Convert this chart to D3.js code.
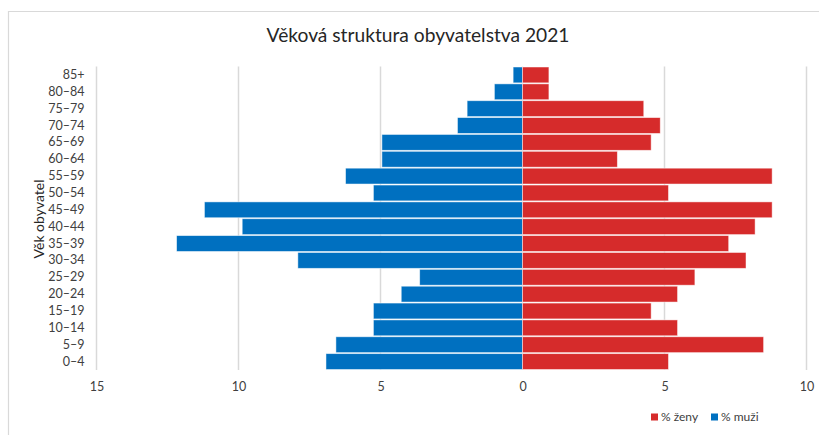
<!DOCTYPE html>
<html>
<head>
<meta charset="utf-8">
<script src="https://cdn.jsdelivr.net/npm/d3@7"></script>
<style>
    body { margin: 0; background: #fff; }
    text { font-family: Lato, "Open Sans", sans-serif; fill: #404040; }
</style>
</head>
<body>
<div id="canvas"></div>
<script>
// DATA
const ageGroups = ["0–4", "5–9", "10–14", "15–19", "20–24", "25–29", "30–34", "35–39", "40–44",
    "45–49", "50–54", "55–59", "60–64", "65–69", "70–74", "75–79", "80–84", "85+"];
const men = [6.92, 6.57, 5.25, 5.25, 4.27, 3.62, 7.91, 12.18, 9.87,
    11.2, 5.25, 6.23, 4.95, 4.95, 2.29, 1.95, 0.99, 0.33];
const women = [5.14, 8.49, 5.46, 4.53, 5.46, 6.07, 7.87, 7.26, 8.19,
    8.79, 5.14, 8.79, 3.34, 4.53, 4.85, 4.27, 0.93, 0.93];
const xTicks = [-15, -10, -5, 0, 5, 10];
const seriesNames = ["% ženy", "% muži"];

// DIMENSIONS
const width = 819;
const height = 435;
const plot = { left: 96.5, right: 806.5, top: 66.5, bottom: 370 };

const blue = "#0070c0";
const red = "#d62b2b";

// CANVAS
const svg = d3.select("#canvas")
    .append("svg")
    .attr("width", width)
    .attr("height", height);

// FRAME
svg.append("path")
    .attr("d", `M8.5,${height} V11.5 H${width}`)
    .attr("fill", "none")
    .attr("stroke", "#d9d9d9")
    .attr("stroke-width", 1.2);

// TITLE
svg.append("text")
    .attr("x", 418)
    .attr("y", 42)
    .attr("text-anchor", "middle")
    .style("font-size", "19.2px")
    .style("fill", "#262626")
    .text("Věková struktura obyvatelstva 2021");

// SCALES
const xScale = d3.scaleLinear()
    .domain([-15, 10])
    .range([plot.left, plot.right]);

const yScale = d3.scaleBand()
    .domain(ageGroups.slice().reverse())
    .range([plot.top, plot.bottom])
    .paddingInner(0.06)
    .paddingOuter(0.03);

// GRID
svg.append("g")
    .selectAll("line")
    .data(xTicks)
    .enter()
    .append("line")
    .attr("x1", d => xScale(d))
    .attr("x2", d => xScale(d))
    .attr("y1", plot.top)
    .attr("y2", plot.bottom)
    .attr("stroke", "#d9d9d9")
    .attr("stroke-width", 1.5);

// BARS
const rows = ageGroups.map((a, i) => ({ age: a, m: men[i], f: women[i] }));

svg.append("g")
    .selectAll("rect")
    .data(rows)
    .enter()
    .append("rect")
    .attr("x", d => xScale(-d.m))
    .attr("y", d => yScale(d.age))
    .attr("width", d => xScale(0) - xScale(-d.m))
    .attr("height", yScale.bandwidth())
    .attr("fill", blue)
    .attr("stroke", "#ffffff")
    .attr("stroke-opacity", 0.6)
    .attr("stroke-width", 0.8);

svg.append("g")
    .selectAll("rect")
    .data(rows)
    .enter()
    .append("rect")
    .attr("x", xScale(0))
    .attr("y", d => yScale(d.age))
    .attr("width", d => xScale(d.f) - xScale(0))
    .attr("height", yScale.bandwidth())
    .attr("fill", red)
    .attr("stroke", "#ffffff")
    .attr("stroke-opacity", 0.6)
    .attr("stroke-width", 0.8);

// AXES
const xAx = d3.axisBottom(xScale)
    .tickValues(xTicks)
    .tickFormat(d => Math.abs(d))
    .tickSize(0)
    .tickPadding(12);

const xaxis = svg.append("g")
    .attr("transform", `translate(0, ${plot.bottom})`)
    .call(xAx);
xaxis.select(".domain").remove();
xaxis.selectAll("text").style("font-size", "12.5px").style("fill", "#404040");

const yAx = d3.axisLeft(yScale)
    .tickSize(0)
    .tickPadding(12);

const yaxis = svg.append("g")
    .attr("transform", `translate(${plot.left}, 0)`)
    .call(yAx);
yaxis.select(".domain").remove();
yaxis.selectAll("text").style("font-size", "12.5px").style("fill", "#404040");

// AXIS LABEL
svg.append("text")
    .attr("transform", "translate(39, 219) rotate(-90)")
    .attr("text-anchor", "middle")
    .attr("dy", "0.35em")
    .style("font-size", "14px")
    .style("fill", "#262626")
    .text("Věk obyvatel");

// LEGEND
const legend = svg.append("g")
    .attr("transform", "translate(651, 417)");

const legendItems = legend.selectAll("g")
    .data(seriesNames)
    .enter()
    .append("g")
    .attr("transform", (d, i) => `translate(${i * 60}, 0)`);

legendItems.append("rect")
    .attr("x", 0)
    .attr("y", -3.5)
    .attr("width", 7)
    .attr("height", 7)
    .attr("fill", (d, i) => i == 0 ? red : blue);

legendItems.append("text")
    .attr("x", 10)
    .attr("dy", "0.35em")
    .style("font-size", "12px")
    .text(d => d);
</script>
</body>
</html>
